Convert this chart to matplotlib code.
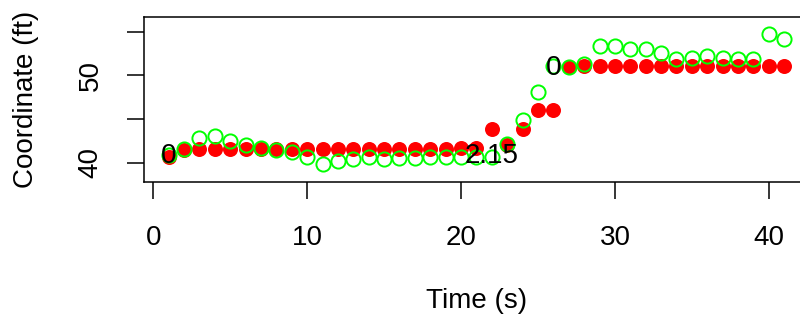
import matplotlib.pyplot as plt
import numpy as np

plt.rcParams['font.family'] = ['Liberation Sans', 'DejaVu Sans']

# time steps (s)
time = list(range(1, 42))

# red series (filled circles)
red_y = [40.7, 41.5, 41.6, 41.6, 41.6, 41.6, 41.6, 41.6, 41.6, 41.6,
         41.6, 41.6, 41.6, 41.6, 41.6, 41.6, 41.6, 41.6, 41.6, 41.7,
         41.7, 43.8, 42.0, 43.9, 46.0, 46.0, 50.9, 51.0, 51.0, 51.0,
         51.0, 51.0, 51.0, 51.0, 51.0, 51.0, 51.0, 51.0, 51.0, 51.0, 51.0]

# green series (open circles)
green_y = [40.9, 41.6, 42.8, 43.0, 42.5, 42.0, 41.7, 41.5, 41.2, 40.7,
           39.8, 40.2, 40.4, 40.7, 40.4, 40.5, 40.5, 40.6, 40.6, 40.7,
           40.6, 40.6, 42.1, 44.9, 48.1, 51.0, 50.9, 51.3, 53.3, 53.3,
           53.0, 53.0, 52.5, 51.8, 52.0, 52.2, 52.0, 51.9, 51.8, 54.7, 54.1]

# annotations
label_x = [1, 22, 26]
label_y = [40.8, 40.8, 50.8]
label_text = ['0', '2.15', '0']

fig = plt.figure(figsize=(8, 3.23), dpi=100)
ax = fig.add_axes([0.18, 0.4375, 0.831, 0.511])

ax.plot(time, red_y, 'o', color='red', markersize=10.8, markeredgewidth=0, zorder=2)
ax.plot(time, green_y, 'o', markerfacecolor='none', markeredgecolor='#00ff00',
        markersize=10.2, markeredgewidth=1.4, zorder=3)

for x, y, t in zip(label_x, label_y, label_text):
    ax.text(x, y, t, ha='center', va='center', fontsize=20, zorder=4)

ax.set_xlim(-0.6, 42.6)
ax.set_ylim(37.83, 56.7)
ax.set_xticks([0, 10, 20, 30, 40])
ax.set_yticks([40, 45, 50, 55])
ax.set_yticklabels(['40', '', '50', ''], rotation=90, va='center')

ax.tick_params(axis='both', direction='out', length=12, width=1.1, labelsize=20)
ax.tick_params(axis='x', pad=19)
ax.tick_params(axis='y', pad=17)
for s in ax.spines.values():
    s.set_linewidth(1.1)

ax.set_xlabel('Time (s)', fontsize=20, labelpad=27)
ax.set_ylabel('Coordinate (ft)', fontsize=20, labelpad=28)

plt.savefig('out.png', dpi=100)
